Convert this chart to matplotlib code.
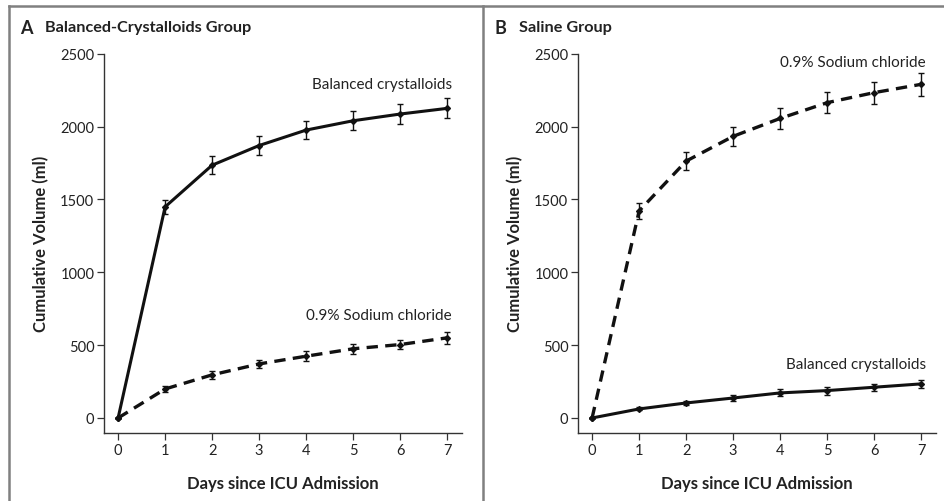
import matplotlib.pyplot as plt
from matplotlib.lines import Line2D

plt.rcParams["font.family"] = ["Lato", "DejaVu Sans"]

days = [0, 1, 2, 3, 4, 5, 6, 7]

# Panel A: balanced-crystalloids group
a_balanced = [0, 1449, 1735, 1870, 1976, 2040, 2086, 2125]
a_balanced_err = [0, 48, 62, 65, 63, 65, 67, 69]
a_saline = [0, 199, 296, 371, 424, 475, 504, 550]
a_saline_err = [0, 22, 26, 30, 34, 34, 34, 41]

# Panel B: saline group
b_saline = [0, 1421, 1763, 1933, 2056, 2164, 2233, 2290]
b_saline_err = [0, 54, 61, 65, 70, 71, 75, 80]
b_balanced = [0, 62, 103, 137, 172, 188, 211, 234]
b_balanced_err = [0, 10, 14, 20, 24, 27, 24, 30]

yticks = [0, 500, 1000, 1500, 2000, 2500]
ink = "#222222"

fig = plt.figure(figsize=(9.44, 5.02), dpi=100)

# outer frame and divider
frame = "#808080"
fig.add_artist(Line2D([9 / 944, 1], [1 - 7 / 502, 1 - 7 / 502], transform=fig.transFigure, color=frame, lw=1.8))
fig.add_artist(Line2D([9 / 944, 9 / 944], [0, 1 - 7 / 502], transform=fig.transFigure, color=frame, lw=1.8))
fig.add_artist(Line2D([482.5 / 944, 482.5 / 944], [0, 1 - 7 / 502], transform=fig.transFigure, color=frame, lw=1.8))


def panel(left, letter, title, solid, solid_err, dashed, dashed_err,
          solid_lbl, solid_lbl_y, dashed_lbl, dashed_lbl_y):
    ax = fig.add_axes([left, 0.1355, 0.3795, 0.7555])
    ax.errorbar(days, solid, yerr=solid_err, color="#111111", lw=2.2,
                marker="D", ms=3, capsize=2.5, elinewidth=1, capthick=1,
                ecolor="#111111")
    ax.errorbar(days, dashed, yerr=dashed_err, color="#111111", lw=2.4,
                ls=(0, (3.4, 2.2)), marker="D", ms=3, capsize=2.5,
                elinewidth=1, capthick=1, ecolor="#111111")
    ax.set_xlim(-0.3, 7.32)
    ax.set_ylim(-103, 2500)
    ax.set_xticks(days)
    ax.set_yticks(yticks)
    for s in ["top", "right"]:
        ax.spines[s].set_visible(False)
    for s in ["left", "bottom"]:
        ax.spines[s].set_color("#333333")
        ax.spines[s].set_linewidth(1.0)
    ax.tick_params(direction="out", length=5, width=0.9, color="#333333",
                   labelsize=10.5, labelcolor=ink, pad=2)
    ax.set_xlabel("Days since ICU Admission", fontsize=12, fontweight="bold",
                  color=ink, labelpad=13)
    ax.set_ylabel("Cumulative Volume (ml)", fontsize=12, fontweight="bold",
                  color=ink, labelpad=8)
    ax.text(7.1, solid_lbl_y, solid_lbl, ha="right", va="center",
            fontsize=11, color=ink)
    ax.text(7.1, dashed_lbl_y, dashed_lbl, ha="right", va="center",
            fontsize=11, color=ink)
    # panel heading
    x0 = left - 84 / 944
    fig.text(x0, 1 - 28 / 502, letter, fontsize=13, fontweight="bold",
             color=ink, va="center", ha="left")
    fig.text(x0 + 25 / 944, 1 - 28 / 502, title, fontsize=11.7,
             fontweight="bold", color=ink, va="center", ha="left")
    return ax


panel(104 / 944, "A", "Balanced-Crystalloids Group",
      a_balanced, a_balanced_err, a_saline, a_saline_err,
      "Balanced crystalloids", 2290, "0.9% Sodium chloride", 710)
panel(578 / 944, "B", "Saline Group",
      b_balanced, b_balanced_err, b_saline, b_saline_err,
      "Balanced crystalloids", 370, "0.9% Sodium chloride", 2440)

fig.savefig("out.png", dpi=100)
